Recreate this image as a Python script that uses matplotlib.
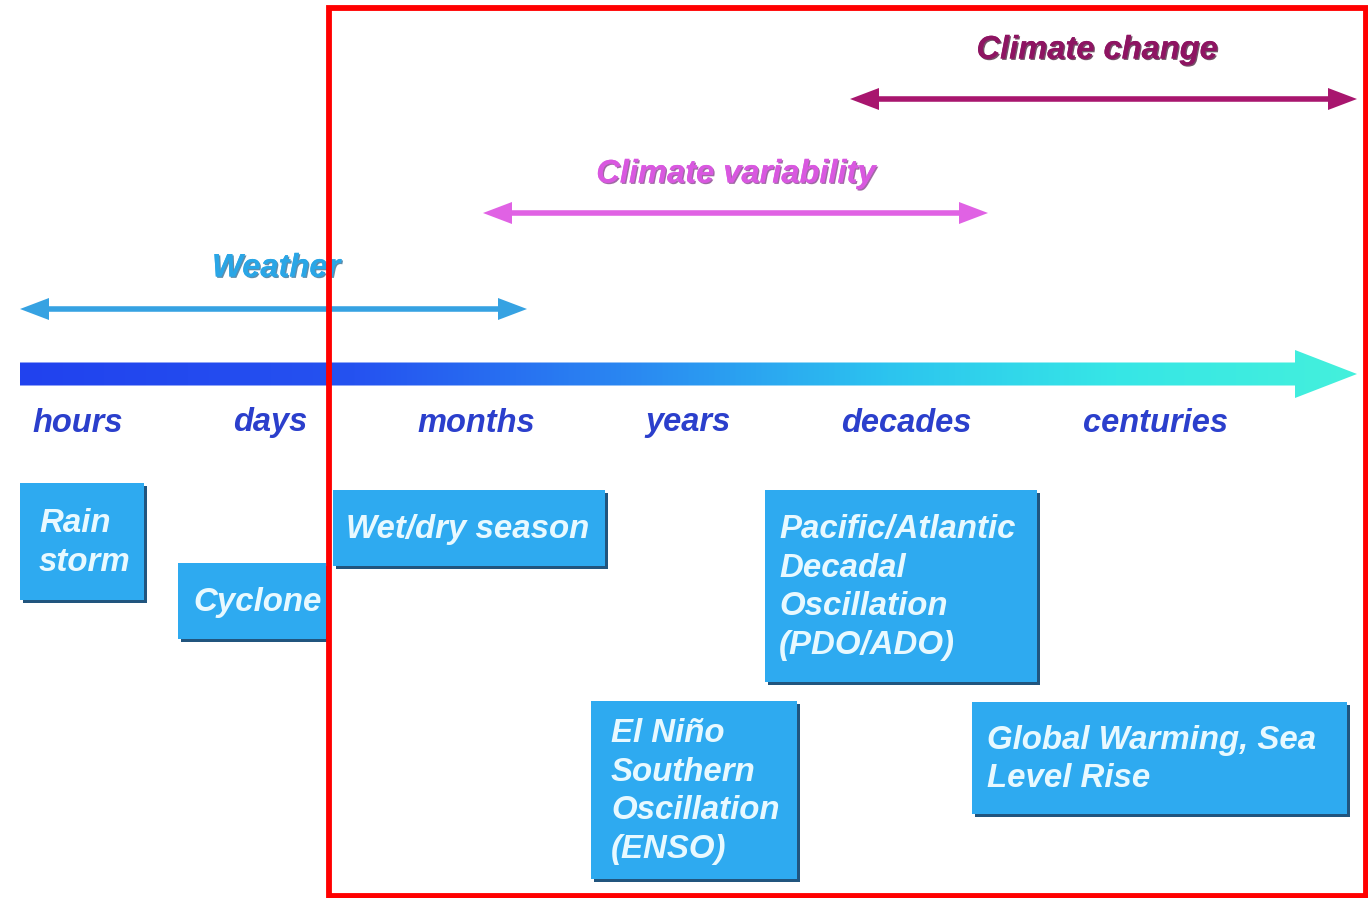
import numpy as np
import matplotlib
matplotlib.use("Agg")
import matplotlib.pyplot as plt
from matplotlib.patches import Polygon, Rectangle
from matplotlib.colors import LinearSegmentedColormap
import matplotlib.patheffects as pe

plt.rcParams['font.family'] = ['Liberation Sans', 'DejaVu Sans']

# ---- data ----
scale_labels = ["hours", "days", "months", "years", "decades", "centuries"]
scale_label_x = [78, 270, 476, 688, 906, 1155]

range_names = ["Weather", "Climate variability", "Climate change"]
range_start = [20, 483, 850]
range_end = [527, 988, 1357]
range_y = [309, 213, 99]
range_title_x = [276, 736, 1097]
range_title_y = [268, 174, 50]
range_colors = ["#36a2e2", "#e062e4", "#a8166e"]
range_title_colors = ["#2aa6e6", "#d958e0", "#8e1462"]
range_shadow_colors = ["#1a5f8a", "#7a2a80", "#3a0628"]

box_texts = ["Rain\nstorm", "Cyclone", "Wet/dry season",
             "Pacific/Atlantic\nDecadal\nOscillation\n(PDO/ADO)",
             "El Niño\nSouthern\nOscillation\n(ENSO)",
             "Global Warming, Sea\nLevel Rise"]
box_x0 = [20, 178, 333, 765, 591, 972]
box_x1 = [144, 326, 605, 1037, 797, 1347]
box_y0 = [483, 563, 490, 490, 701, 702]
box_y1 = [600, 639, 566, 682, 879, 814]
box_pad = [19, 15, 13, 14, 20, 15]

W, H = 1368, 898
fig = plt.figure(figsize=(W / 100, H / 100), dpi=100)
ax = fig.add_axes([0, 0, 1, 1])
ax.set_xlim(0, W)
ax.set_ylim(H, 0)
ax.axis('off')

# ---- main gradient time arrow ----
bx0, bx1, tip = 20, 1295, 1357
by, bh, hh = 374, 11.5, 24
poly = Polygon([(bx0, by - bh), (bx1, by - bh), (bx1, by - hh), (tip, by),
                (bx1, by + hh), (bx1, by + bh), (bx0, by + bh)],
               closed=True, facecolor='none', edgecolor='none')
ax.add_patch(poly)
cmap = LinearSegmentedColormap.from_list(
    "bar", [(0.0, "#2142ee"), (0.25, "#2552f0"), (0.45, "#2a86f2"),
            (0.65, "#2cc4ef"), (0.82, "#36e6e6"), (1.0, "#44f0dc")])
grad = np.linspace(0, 1, 512).reshape(1, -1)
im = ax.imshow(grad, cmap=cmap, aspect='auto',
               extent=(bx0, tip, by + hh, by - hh), zorder=2)
im.set_clip_path(poly)
ax.set_xlim(0, W)
ax.set_ylim(H, 0)

# scale labels
for lab, x in zip(scale_labels, scale_label_x):
    ax.text(x, 423, lab, ha='center', va='center', fontsize=23.5,
            fontweight='bold', fontstyle='italic', color='#2b3fcc', zorder=3)

# ---- double-headed range arrows ----
head_len, head_half, shaft = 29, 11, 4.0
for name, x0, x1, y, tx, ty, c, tc, sc in zip(range_names, range_start, range_end,
                                                range_y, range_title_x, range_title_y,
                                                range_colors, range_title_colors,
                                                range_shadow_colors):
    ax.plot([x0 + head_len - 2, x1 - head_len + 2], [y, y], color=c, lw=shaft,
            solid_capstyle='butt', zorder=3)
    ax.add_patch(Polygon([(x0, y), (x0 + head_len, y - head_half),
                          (x0 + head_len, y + head_half)], closed=True,
                         facecolor=c, edgecolor='none', zorder=3))
    ax.add_patch(Polygon([(x1, y), (x1 - head_len, y - head_half),
                          (x1 - head_len, y + head_half)], closed=True,
                         facecolor=c, edgecolor='none', zorder=3))
    ax.text(tx, ty, name, ha='center', va='center', fontsize=23.5,
            fontweight='bold', fontstyle='italic', color=tc, zorder=4,
            path_effects=[pe.withSimplePatchShadow(offset=(1.0, -1.0),
                                                   shadow_rgbFace=sc, alpha=0.7),
                          pe.Normal()])

# ---- boxes ----
box_color = "#2eaaf0"
shadow_color = "#21557e"
line_h = 38.5
for txt, x0, x1, y0, y1, pad in zip(box_texts, box_x0, box_x1, box_y0, box_y1,
                                    box_pad):
    ax.add_patch(Rectangle((x0 + 3, y0 + 3), x1 - x0, y1 - y0,
                           facecolor=shadow_color, edgecolor='none', zorder=4))
    ax.add_patch(Rectangle((x0, y0), x1 - x0, y1 - y0,
                           facecolor=box_color, edgecolor='none', zorder=5))
    lines = txt.split("\n")
    n = len(lines)
    yc = (y0 + y1) / 2
    for i, ln in enumerate(lines):
        yy = yc + (i - (n - 1) / 2) * line_h + 1.5
        ax.text(x0 + pad, yy, ln, ha='left', va='center', fontsize=23.8,
                fontweight='bold', fontstyle='italic', color='#e8f9ff', zorder=6)

# ---- red frame ----
ax.add_patch(Rectangle((329, 7.5), 1036.5, 888, facecolor='none',
                       edgecolor='#ff0000', lw=4.2, zorder=10))

fig.savefig("out.png", dpi=100)
